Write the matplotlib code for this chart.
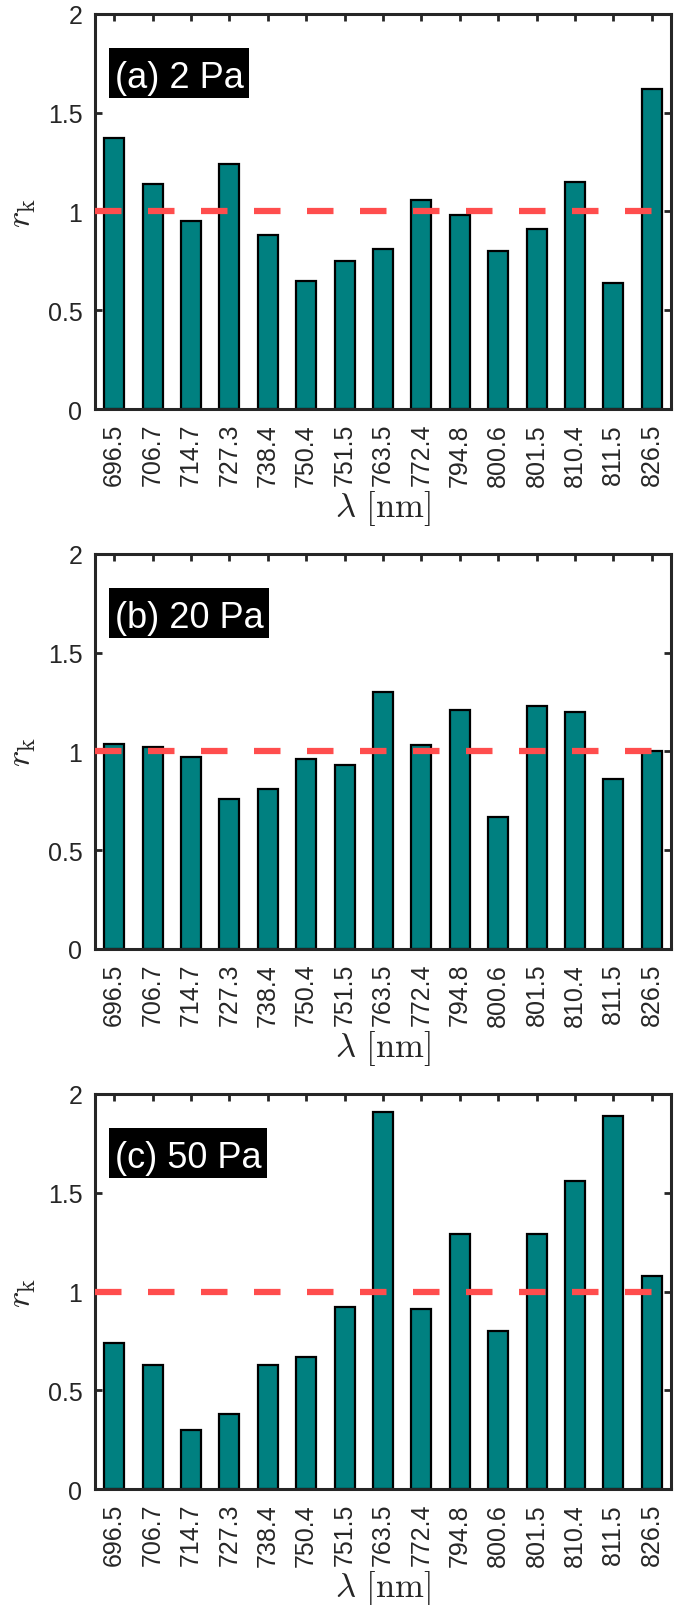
import numpy as np
import matplotlib
matplotlib.use("Agg")
import matplotlib.pyplot as plt
from matplotlib.patches import Rectangle

plt.rcParams['font.family'] = ['Liberation Sans', 'DejaVu Sans']
plt.rcParams['mathtext.fontset'] = 'cm'

# wavelengths of the lines (tick labels)
wavelengths = ["696.5", "706.7", "714.7", "727.3", "738.4", "750.4", "751.5", "763.5",
               "772.4", "794.8", "800.6", "801.5", "810.4", "811.5", "826.5"]

# ratio r_k for each pressure
r_2Pa = [1.37, 1.14, 0.95, 1.24, 0.88, 0.65, 0.75, 0.81, 1.06, 0.98, 0.80, 0.91, 1.15, 0.64, 1.62]
r_20Pa = [1.04, 1.02, 0.97, 0.76, 0.81, 0.96, 0.93, 1.30, 1.03, 1.21, 0.67, 1.23, 1.20, 0.86, 1.00]
r_50Pa = [0.74, 0.63, 0.30, 0.38, 0.63, 0.67, 0.92, 1.91, 0.91, 1.29, 0.80, 1.29, 1.56, 1.89, 1.08]

panels = ["(a) 2 Pa", "(b) 20 Pa", "(c) 50 Pa"]
series = [r_2Pa, r_20Pa, r_50Pa]

axcol = '#262626'
fig = plt.figure(figsize=(6.8, 16.06), dpi=100)
bottoms = [0.7447, 0.4085, 0.0722]

x = np.arange(1, len(wavelengths) + 1)
labels = []
for b, lab, vals in zip(bottoms, panels, series):
    ax = fig.add_axes([0.1397, b, 0.847, 0.246])
    ax.bar(x, vals, width=0.52, color='#008080', edgecolor='black', linewidth=1.6, zorder=2)
    ax.plot([0.5, 15.5], [1, 1], color='#ff4d4d', linewidth=4.5,
            linestyle=(0, (4.24, 4.24)), zorder=3)
    ax.set_xlim(0.5, 15.5)
    ax.set_ylim(0, 2)
    ax.set_xticks(x)
    ax.set_xticklabels(wavelengths, rotation=90)
    ax.set_yticks([0, 0.5, 1, 1.5, 2])
    ax.set_yticklabels(["0", "0.5", "1", "1.5", "2"])
    ax.tick_params(direction='in', top=True, right=True, length=5, width=2,
                   colors=axcol, labelsize=18, pad=9)
    ax.tick_params(axis='x', pad=10)
    for s in ax.spines.values():
        s.set_linewidth(2.2)
        s.set_color(axcol)
    ax.set_ylabel(r'$r_\mathrm{k}$', fontsize=25, color=axcol, labelpad=7)
    ax.set_xlabel(r'$\lambda\ [\mathrm{nm}]$', fontsize=25, color=axcol, labelpad=2)
    t = ax.text(0.0243 + 6 / 576, 0.8503, lab, transform=ax.transAxes, ha='left',
                va='center_baseline', fontsize=26, color='white', zorder=6)
    labels.append((ax, t))

# black boxes behind the panel labels
fig.canvas.draw()
r = fig.canvas.get_renderer()
for ax, t in labels:
    w = t.get_window_extent(r).width / 576
    ax.add_patch(Rectangle((0.0243, 0.7866), w + 11 / 576, 0.1273, transform=ax.transAxes,
                           facecolor='black', edgecolor='none', zorder=5))

fig.savefig('out.png', dpi=100)
